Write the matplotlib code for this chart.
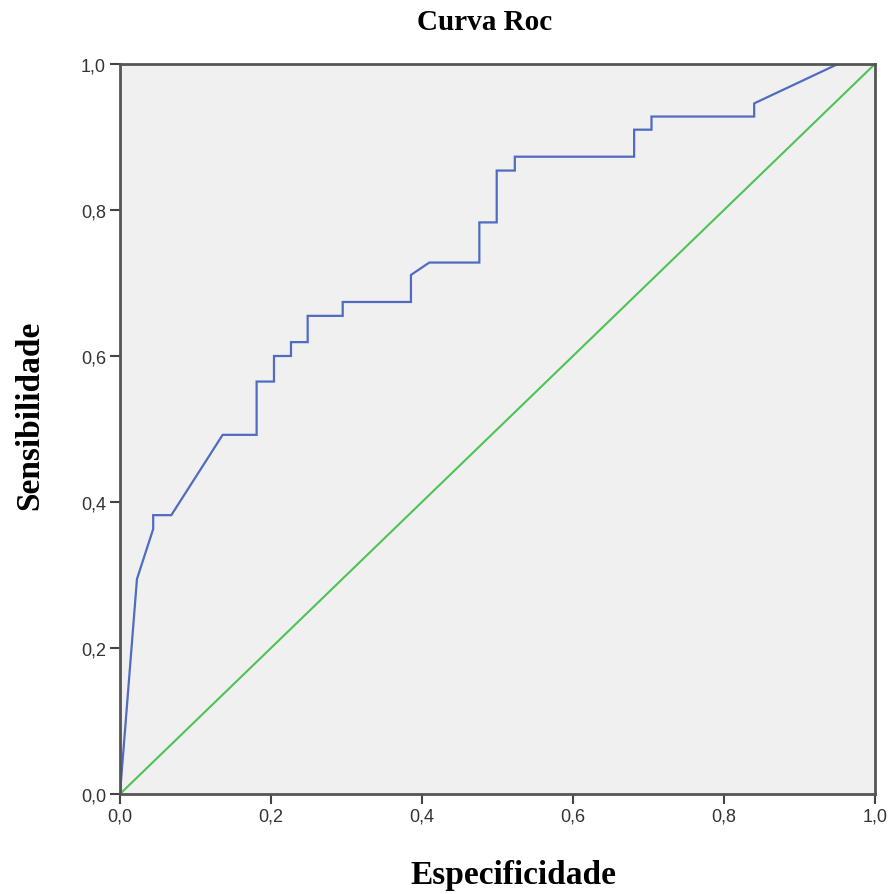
import matplotlib
matplotlib.use("Agg")
import matplotlib.pyplot as plt
from matplotlib.ticker import FuncFormatter

# Pontos da curva ROC (1 - especificidade, sensibilidade)
fpr = [0.0, 0.0225, 0.044, 0.044, 0.068, 0.136, 0.181, 0.181, 0.204, 0.204,
       0.2265, 0.2265, 0.2486, 0.2486, 0.295, 0.295, 0.3854, 0.3854, 0.4097,
       0.476, 0.476, 0.499, 0.499, 0.523, 0.523, 0.681, 0.681, 0.704, 0.704,
       0.840, 0.840, 0.951, 1.0]
tpr = [0.0, 0.2945, 0.363, 0.382, 0.382, 0.492, 0.492, 0.565, 0.565, 0.600,
       0.600, 0.619, 0.619, 0.655, 0.655, 0.674, 0.674, 0.711, 0.728,
       0.728, 0.783, 0.783, 0.854, 0.854, 0.873, 0.873, 0.910, 0.910, 0.928,
       0.928, 0.946, 1.0, 1.0]
ref_x = [0.0, 1.0]
ref_y = [0.0, 1.0]
ticks = [0.0, 0.2, 0.4, 0.6, 0.8, 1.0]

fig = plt.figure(figsize=(8.9, 8.95), dpi=100)
ax = fig.add_axes([0.1348, 0.1117, 0.8483, 0.8157])
ax.set_facecolor('#f0f0f0')

ax.plot(fpr, tpr, color='#4f6bc2', lw=1.6, solid_joinstyle='miter')
ax.plot(ref_x, ref_y, color='#4cc454', lw=1.5)

ax.set_xlim(0, 1)
ax.set_ylim(0, 1)
ax.set_xticks(ticks)
ax.set_yticks(ticks)
fmt = FuncFormatter(lambda v, p: ('%.1f' % v).replace('.', ','))
ax.xaxis.set_major_formatter(fmt)
ax.yaxis.set_major_formatter(fmt)
ax.tick_params(direction='out', length=7, width=1.5, color='#444444',
               labelsize=13, labelcolor='#333333', pad=3)
for lbl in ax.get_xticklabels() + ax.get_yticklabels():
    lbl.set_family('Liberation Sans')
for s in ax.spines.values():
    s.set_color('#555555')
    s.set_linewidth(2)

fig.text(0.544, 0.975, 'Curva Roc', family='Liberation Serif', fontweight='bold',
         fontsize=21, ha='center', va='center')
ax.set_xlabel('Especificidade', family='Liberation Serif', fontweight='bold',
              fontsize=24, va='center')
ax.xaxis.set_label_coords(0.5205, -0.1096)
ax.set_ylabel('Sensibilidade', family='Liberation Serif', fontweight='bold',
              fontsize=24, va='center')
ax.yaxis.set_label_coords(-0.119, 0.5205)

fig.savefig('out.png', dpi=100)
